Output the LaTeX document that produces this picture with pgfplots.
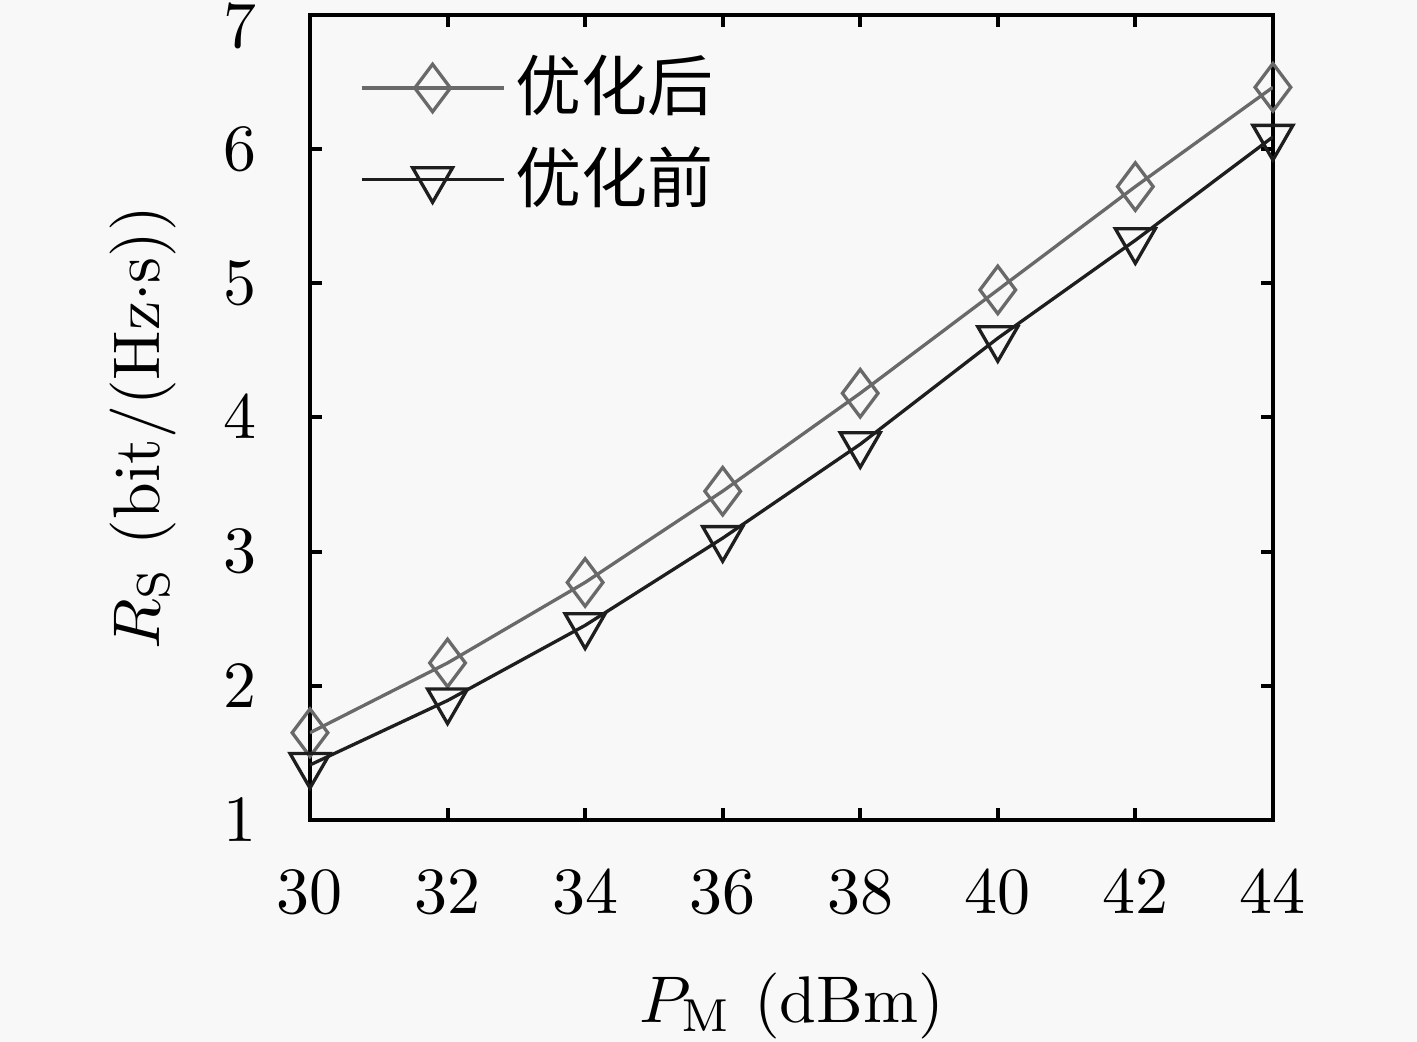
\documentclass[border=0pt]{standalone}
\usepackage{pgfplots}
\pgfplotsset{compat=1.18}
\usepackage{fontspec}
\newfontfamily\cjk{Noto Sans CJK SC}
\definecolor{cA}{RGB}{105,105,105}
\definecolor{cB}{RGB}{30,30,30}
\definecolor{bg}{RGB}{248,248,248}
\begin{document}
\begin{tikzpicture}
\fill[bg] (-46.97pt,-33.64pt) rectangle (167.73pt,124.24pt);
\useasboundingbox (-46.97pt,-33.64pt) rectangle (167.73pt,124.24pt);
\begin{axis}[
  at={(0,0)}, anchor=south west,
  scale only axis, width=145.9pt, height=122pt,
  xmin=30, xmax=44, ymin=1, ymax=7,
  xtick={30,32,34,36,38,40,42,44},
  ytick={1,2,3,4,5,6},
  extra y ticks={7},
  extra y tick style={yticklabel style={yshift=-1.8pt}},
  tick align=inside, major tick length=1.8pt,
  tick style={line width=0.6pt, black},
  axis line style={line width=0.7pt},
  xticklabel style={yshift=-4.2pt},
  yticklabel style={xshift=-4.6pt},
  xlabel={$P_{\mathrm{M}}\ (\mathrm{dBm})$},
  ylabel={$R_{\mathrm{S}}\ (\mathrm{bit/(Hz{\cdot}s)})$},
  xlabel style={at={(axis description cs:0.5,-0.251)}, anchor=base},
  ylabel style={at={(axis description cs:-0.173,0.487)}, anchor=center},
  legend cell align=left,
  legend image code/.code={\draw[mark repeat=2,mark phase=2] plot coordinates {(0pt,0pt)(10.75pt,0pt)(21.5pt,0pt)};},
  legend style={draw=none, fill=none, at={(axis description cs:0.03,0.98)}, anchor=north west,
    row sep=0.9pt, font=\cjk, nodes={inner sep=1.5pt}},
]
\addplot[color=cA, line width=0.5pt, mark=diamond, mark size=3.6pt, mark options={solid, line width=0.5pt}]
coordinates {(30,1.65)(32,2.17)(34,2.77)(36,3.45)(38,4.18)(40,4.95)(42,5.72)(44,6.46)};
\addlegendentry{优化后}
\addplot[color=cB, line width=0.5pt, mark=triangle, mark size=3.5pt, mark options={solid, rotate=180, line width=0.5pt}]
coordinates {(30,1.41)(32,1.89)(34,2.45)(36,3.10)(38,3.80)(40,4.59)(42,5.32)(44,6.09)};
\addlegendentry{优化前}
\end{axis}
\end{tikzpicture}
\end{document}
